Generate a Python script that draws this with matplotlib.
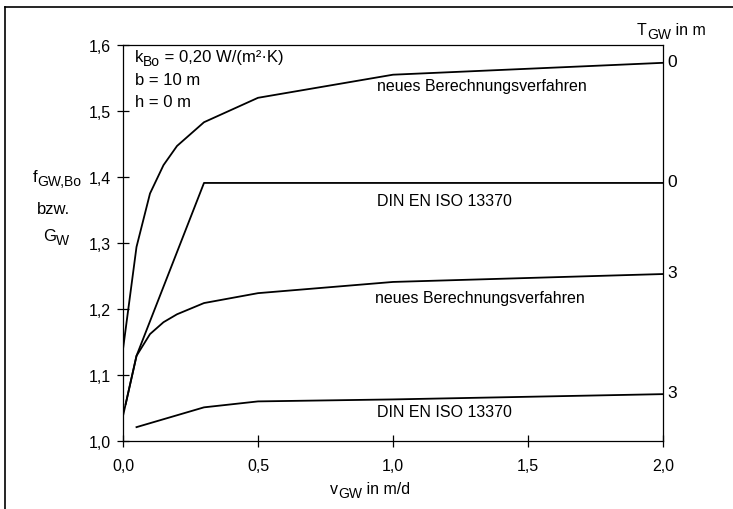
import matplotlib
matplotlib.use("Agg")
import matplotlib.pyplot as plt
from matplotlib.lines import Line2D
from matplotlib.transforms import IdentityTransform

plt.rcParams['font.family'] = ['Liberation Sans', 'DejaVu Sans']

# Data (v_GW in m/d, f_GW,Bo / G_W)
v_new0 = [0.0, 0.05, 0.1, 0.15, 0.2, 0.3, 0.5, 1.0, 2.0]
f_new0 = [1.139, 1.294, 1.375, 1.418, 1.447, 1.483, 1.520, 1.555, 1.573]

v_din0 = [0.01, 0.05, 0.3, 2.0]
f_din0 = [1.056, 1.129, 1.391, 1.391]

v_new3 = [0.0, 0.05, 0.1, 0.15, 0.2, 0.3, 0.5, 1.0, 2.0]
f_new3 = [1.038, 1.129, 1.162, 1.180, 1.192, 1.209, 1.224, 1.241, 1.253]

v_din3 = [0.05, 0.3, 0.5, 1.0, 2.0]
f_din3 = [1.021, 1.051, 1.060, 1.063, 1.071]

T_labels = ["0", "0", "3", "3"]
xticks = [0.0, 0.5, 1.0, 1.5, 2.0]
xticklabels = ["0,0", "0,5", "1,0", "1,5", "2,0"]
yticks = [1.0, 1.1, 1.2, 1.3, 1.4, 1.5, 1.6]
yticklabels = ["1,0", "1,1", "1,2", "1,3", "1,4", "1,5", "1,6"]

W, H = 733, 510
fig = plt.figure(figsize=(W/100, H/100), dpi=100)
ax = fig.add_axes([123/W, 1-442/H, (663-123)/W, (442-46)/H])

lw = 1.3
ax.plot(v_new0, f_new0, color='black', lw=lw)
ax.plot(v_din0, f_din0, color='black', lw=lw)
ax.plot(v_new3, f_new3, color='black', lw=lw)
ax.plot(v_din3, f_din3, color='black', lw=lw)

ax.set_xlim(0, 2.0)
ax.set_ylim(1.0, 1.6)
ax.set_xticks(xticks)
ax.set_xticklabels(xticklabels)
ax.set_yticks(yticks)
ax.set_yticklabels(yticklabels)
ax.tick_params(direction='inout', length=8, width=0.9, labelsize=11.5, pad=5)
ax.tick_params(axis='x', pad=8)
for s in ax.spines.values():
    s.set_linewidth(0.9)

fs = 11.5
sfs = 10
# curve labels
ax.text(1.33, 1.538, "neues Berechnungsverfahren", ha='center', va='center', fontsize=fs)
ax.text(1.19, 1.364, "DIN EN ISO 13370", ha='center', va='center', fontsize=fs)
ax.text(1.32, 1.217, "neues Berechnungsverfahren", ha='center', va='center', fontsize=fs)
ax.text(1.19, 1.045, "DIN EN ISO 13370", ha='center', va='center', fontsize=fs)

# right labels (T_GW)
ends = [f_new0[-1], f_din0[-1], f_new3[-1], f_din3[-1]]
for lab, yv in zip(T_labels, ends):
    ax.text(2.015, yv + 0.002, lab, ha='left', va='center', fontsize=12.5)

renderer = fig.canvas.get_renderer()
ident = IdentityTransform()


def sub_text(px_left, py_base, main, sub, rest, drop=4, size=fs):
    """Draw main text + subscript + rest, starting at pixel (left, baseline) from top-left."""
    y = H - py_base
    t1 = fig.text(px_left, y, main, transform=ident, ha='left', va='baseline', fontsize=size)
    x = t1.get_window_extent(renderer).x1
    t2 = fig.text(x, y - drop, sub, transform=ident, ha='left', va='baseline', fontsize=sfs)
    x = t2.get_window_extent(renderer).x1
    if rest:
        fig.text(x, y, rest, transform=ident, ha='left', va='baseline', fontsize=size)


# T_GW header
sub_text(637, 35, "T", "GW", " in m")

# parameter annotation
sub_text(135, 62, "k", "Bo", " = 0,20 W/(m²·K)", size=12)
fig.text(135, H - 85, "b = 10 m", transform=ident, ha='left', va='baseline', fontsize=12)
fig.text(135, H - 107, "h = 0 m", transform=ident, ha='left', va='baseline', fontsize=12)

# y label
sub_text(33, 182, "f", "GW,Bo", "", size=12)
fig.text(37, H - 214, "bzw.", transform=ident, ha='left', va='baseline', fontsize=12)
sub_text(43, 241, "G", "W", "", size=12)

# x label
sub_text(330, 494, "v", "GW", " in m/d")

# outer frame (left and top only visible)
fig.add_artist(Line2D([5/W, 5/W], [0, 1-8/H], transform=fig.transFigure, color='black', lw=1.2))
fig.add_artist(Line2D([5/W, 1], [1-8/H, 1-8/H], transform=fig.transFigure, color='black', lw=1.2))

fig.savefig("out.png", dpi=100)
